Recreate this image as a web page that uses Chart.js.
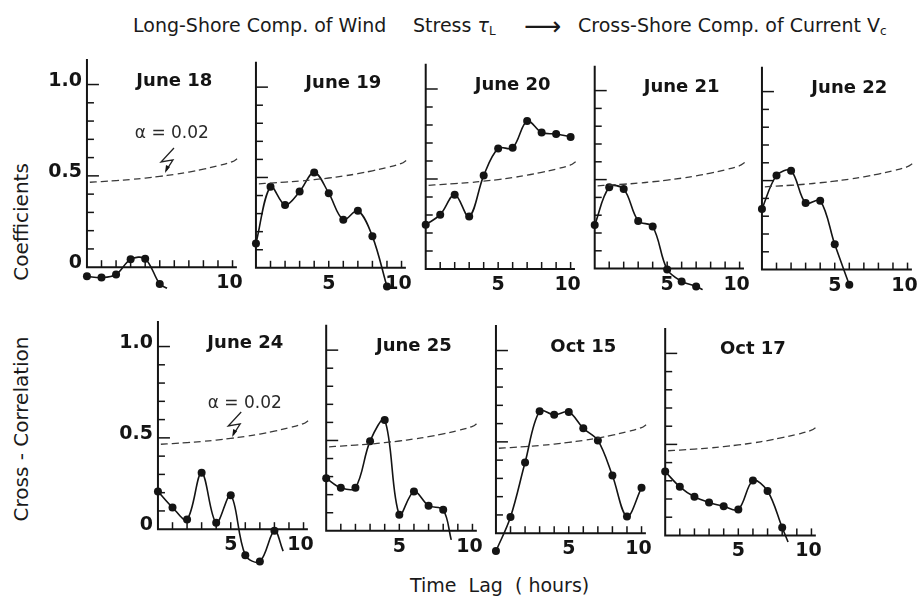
<!DOCTYPE html>
<html><head><meta charset="utf-8">
<script src="https://cdn.jsdelivr.net/npm/chart.js@4.4.0/dist/chart.umd.min.js"></script>
<style>
html,body{margin:0;padding:0;background:#fff;}
#wrap{position:relative;width:921px;height:598px;overflow:hidden;background:#fff;font-family:"DejaVu Sans",sans-serif;color:#1a1a1a;}
canvas{position:absolute;}
.t{position:absolute;white-space:pre;font-size:19px;line-height:1;}
.t sub{font-size:12px;vertical-align:-3px;line-height:0;}
.rot{position:absolute;white-space:pre;font-size:20px;line-height:1;transform:translate(-50%,-50%) rotate(-90deg);}
</style></head><body><div id="wrap">
<span class="t" style="left:133px;top:16px">Long-Shore Comp. of Wind</span>
<span class="t" style="left:413px;top:16px">Stress <i>τ</i><sub>L</sub></span>
<span class="t" style="left:524px;top:13px;font-size:26px">⟶</span>
<span class="t" style="left:578px;top:16px">Cross-Shore Comp. of Current V<sub>c</sub></span>
<span class="rot" style="left:21px;top:222px">Coefficients</span>
<span class="rot" style="left:21px;top:429px">Cross - Correlation</span>
<span class="t" style="left:410px;top:576px">Time  Lag  ( hours)</span>
</div>
<script>
// ---------- data ----------
const lags = [0, 1, 2, 3, 4, 5, 6, 7, 8, 9, 10];
const june18 = [-0.050, -0.057, -0.040, 0.043, 0.046, -0.092];
const june18Tail = [5.5, -0.115];
const june19 = [0.135, 0.449, 0.348, 0.422, 0.528, 0.413, 0.266, 0.316, 0.174, -0.104];
const june20 = [0.246, 0.302, 0.413, 0.291, 0.519, 0.670, 0.673, 0.822, 0.758, 0.750, 0.734];
const june21 = [0.245, 0.457, 0.447, 0.268, 0.236, -0.005, -0.072, -0.100];
const june21Tail = [7.45, -0.118];
const june22 = [0.341, 0.528, 0.555, 0.374, 0.387, 0.142, -0.085];
const june24 = [0.207, 0.119, 0.053, 0.309, 0.035, 0.186, -0.142, -0.177, -0.009];
const june24Tail = [8.6, -0.12];
const june25 = [0.291, 0.238, 0.238, 0.496, 0.613, 0.089, 0.218, 0.139, 0.116];
const june25Tail = [8.55, -0.05];
const oct15 = [-0.098, 0.089, 0.387, 0.668, 0.648, 0.663, 0.574, 0.508, 0.316, 0.091, 0.249];
const oct17 = [0.351, 0.267, 0.212, 0.181, 0.160, 0.142, 0.301, 0.244, 0.043];
const oct17Tail = [8.4, -0.036];
// significance level curve (alpha = 0.02)
const alphaLags = [0.2, 1, 2, 3, 4, 5, 6, 7, 8, 9, 10, 10.35];
const alphaVals = [0.465, 0.469, 0.474, 0.480, 0.488, 0.497, 0.508, 0.521, 0.537, 0.555, 0.578, 0.596];
// tick values / labels
const yTicks = [0.1, 0.2, 0.3, 0.4, 0.5, 0.6, 0.7, 0.8, 0.9, 1.0];
const xTicks = [1, 2, 3, 4, 5, 6, 7, 8, 9, 10];
const yTickLabels = [[1.0, '1.0'], [0.5, '0.5'], [0, '0']];
const alphaText = 'α = 0.02';

// ---------- layout ----------
const INK = '#141414';
const XMIN = -3.5, XMAX = 11.2, YMIN = -0.3, YMAX = 1.2;
const panels = [
  {name:'June 18', vals:june18, tail:june18Tail, ax:85,  x10:236, y0:270,   y1:82,  yLab:true,  xLab:['10'], alpha:{lag:5.83, v:0.707, bl:5.36, bv:0.516}},
  {name:'June 19', vals:june19, tail:null,       ax:254, x10:405, y0:270,   y1:84,  yLab:false, xLab:['5','10']},
  {name:'June 20', vals:june20, tail:null,       ax:423, x10:573, y0:271.5, y1:86,  yLab:false, xLab:['5','10']},
  {name:'June 21', vals:june21, tail:june21Tail, ax:592, x10:742, y0:271.5, y1:88,  yLab:false, xLab:['5','10']},
  {name:'June 22', vals:june22, tail:null,       ax:760, x10:911, y0:272.5, y1:89,  yLab:false, xLab:['5','10']},
  {name:'June 24', vals:june24, tail:june24Tail, ax:156, x10:307, y0:532,   y1:344, yLab:true,  xLab:['5','10'], alpha:{lag:5.96, v:0.665, bl:5.1, bv:0.505}},
  {name:'June 25', vals:june25, tail:june25Tail, ax:324, x10:476, y0:533,   y1:347, yLab:false, xLab:['5','10']},
  {name:'Oct 15',  vals:oct15,  tail:null,       ax:494, x10:645, y0:536,   y1:348, yLab:false, xLab:['5','10']},
  {name:'Oct 17',  vals:oct17,  tail:oct17Tail,  ax:663, x10:815, y0:537,   y1:350, yLab:false, xLab:['5','10']}
];

function makeDecor(p){
  return {
    id:'decor',
    beforeDatasetsDraw(chart){
      const ctx = chart.ctx, xs = chart.scales.x, ys = chart.scales.y;
      const X = v => xs.getPixelForValue(v), Y = v => ys.getPixelForValue(v);
      ctx.save();
      ctx.strokeStyle = INK; ctx.fillStyle = INK;
      ctx.lineWidth = 2;
      ctx.beginPath();
      ctx.moveTo(X(0), Y(1.14)); ctx.lineTo(X(0), Y(0)); ctx.lineTo(X(10.3), Y(0));
      ctx.stroke();
      ctx.lineWidth = 1.5;
      yTicks.forEach(t => {
        const len = (t === 0.5 || t === 1.0) ? 12 : 7;
        ctx.beginPath(); ctx.moveTo(X(0), Y(t)); ctx.lineTo(X(0) + len, Y(t)); ctx.stroke();
      });
      xTicks.forEach(t => {
        ctx.beginPath(); ctx.moveTo(X(t), Y(0)); ctx.lineTo(X(t), Y(0) - 7); ctx.stroke();
      });
      ctx.font = 'bold 18px "DejaVu Sans"';
      ctx.textBaseline = 'alphabetic';
      ctx.textAlign = 'center';
      ctx.fillText(p.name, X(6), Y(1.0) + 1);
      ctx.font = 'bold 19px "DejaVu Sans"';
      p.xLab.forEach(l => {
        const v = parseFloat(l);
        ctx.fillText(l, X(v) - (v === 10 ? 3 : 0), Y(0) + 21);
      });
      if (p.yLab) {
        ctx.textAlign = 'right';
        yTickLabels.forEach(([v, l]) => ctx.fillText(l, X(0) - 5, Y(v) + 1));
      }
      if (p.alpha) {
        const a = p.alpha;
        ctx.font = '17px "DejaVu Sans"';
        ctx.textAlign = 'center';
        ctx.fillStyle = '#2a2a2a';
        ctx.fillText(alphaText, X(a.lag), Y(a.v));
        const ex = X(a.bl), ey = Y(a.bv);
        ctx.strokeStyle = '#222'; ctx.lineWidth = 1.3;
        ctx.beginPath();
        ctx.moveTo(ex + 9, ey - 25); ctx.lineTo(ex - 4, ey - 11); ctx.lineTo(ex + 8, ey - 13); ctx.lineTo(ex + 1, ey - 2);
        ctx.stroke();
        ctx.fillStyle = INK;
        ctx.beginPath();
        ctx.moveTo(ex, ey); ctx.lineTo(ex + 1, ey - 8); ctx.lineTo(ex + 5, ey - 6); ctx.closePath();
        ctx.fill();
      }
      ctx.restore();
    }
  };
}

const wrap = document.getElementById('wrap');
panels.forEach(p => {
  const ux = (p.x10 - p.ax) / 10, uy = (p.y0 - p.y1);
  const left = Math.round(p.ax + XMIN * ux), top = Math.round(p.y0 - YMAX * uy);
  const w = Math.round((XMAX - XMIN) * ux), h = Math.round((YMAX - YMIN) * uy);
  const cv = document.createElement('canvas');
  cv.width = w; cv.height = h;
  cv.style.left = left + 'px'; cv.style.top = top + 'px';
  cv.style.width = w + 'px'; cv.style.height = h + 'px';
  wrap.appendChild(cv);
  const pts = p.vals.map((v, i) => ({x: lags[i], y: v}));
  const n = pts.length;
  if (p.tail) pts.push({x: p.tail[0], y: p.tail[1]});
  new Chart(cv, {
    type: 'line',
    data: {
      datasets: [
        {data: alphaLags.map((x, i) => ({x, y: alphaVals[i]})), borderColor: '#3a3a3a', borderWidth: 1.3,
         borderDash: [7, 4], pointRadius: 0, tension: 0.4, fill: false},
        {data: pts, borderColor: INK, borderWidth: 1.6, tension: 0.35, fill: false,
         pointRadius: c => c.dataIndex < n ? 4 : 0, pointBackgroundColor: INK, pointBorderColor: INK, pointBorderWidth: 0}
      ]
    },
    options: {
      responsive: false, animation: false, events: [],
      layout: {padding: 0},
      plugins: {legend: {display: false}, tooltip: {enabled: false}, title: {display: false}},
      scales: {
        x: {type: 'linear', min: XMIN, max: XMAX, display: false},
        y: {type: 'linear', min: YMIN, max: YMAX, display: false}
      }
    },
    plugins: [makeDecor(p)]
  });
});
</script>
</body></html>
